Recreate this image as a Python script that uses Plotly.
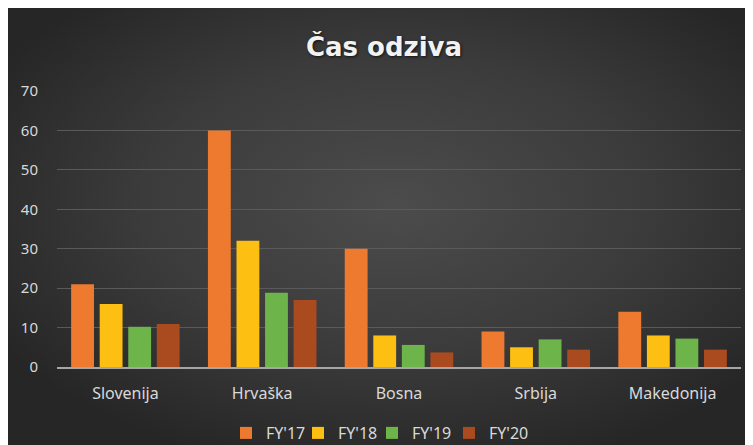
import plotly.graph_objects as go
import base64

categories = ["Slovenija", "Hrvaška", "Bosna", "Srbija", "Makedonija"]
series_names = ["FY'17", "FY'18", "FY'19", "FY'20"]
fy17 = [21, 60, 30, 9, 14]
fy18 = [16, 32, 8, 5, 8]
fy19 = [10.2, 18.8, 5.6, 7, 7.2]
fy20 = [10.9, 17, 3.7, 4.4, 4.4]
y_ticks = [0, 10, 20, 30, 40, 50, 60, 70]

series_values = [fy17, fy18, fy19, fy20]
colors = ["#EE7A30", "#FDC012", "#6DB44A", "#A94A1F"]
legend_ids = ["legend", "legend2", "legend3", "legend4"]
legend_text_x = [257, 329, 403, 480]

W, H = 745, 437
ml, mr, mt, mb = 49, 12, 83, 78
pw, ph = W - ml - mr, H - mt - mb

fig = go.Figure()
for name, vals, c, lg in zip(series_names, series_values, colors, legend_ids):
    fig.add_trace(go.Bar(x=categories, y=vals, name=name, legend=lg,
                         marker=dict(color=c, line=dict(width=0))))

svg = f"""<svg xmlns='http://www.w3.org/2000/svg' width='{W}' height='{H}' preserveAspectRatio='none'>
<defs><radialGradient id='g' cx='52%' cy='45%' r='62%'>
<stop offset='0%' stop-color='#4c4c4c'/><stop offset='55%' stop-color='#3b3b3b'/><stop offset='100%' stop-color='#262626'/>
</radialGradient></defs><rect width='{W}' height='{H}' fill='url(#g)'/></svg>"""
src = "data:image/svg+xml;base64," + base64.b64encode(svg.encode()).decode()

x0 = -ml / pw
x1 = (W - ml) / pw
ytop = (H - mb) / ph
ybot = -mb / ph
fig.add_layout_image(dict(source=src, xref="paper", yref="paper", x=x0, y=ytop,
                          sizex=x1 - x0, sizey=ytop - ybot, xanchor="left", yanchor="top",
                          sizing="stretch", layer="below"))

leg_y = (H - mb - 425) / ph
leg_common = dict(orientation="h", xanchor="left", y=leg_y, yanchor="middle",
                  font=dict(size=16, color="#d9d9d9"), bgcolor="rgba(0,0,0,0)",
                  itemwidth=30, traceorder="normal")
legends = {lg: dict(x=(tx - 39 - ml) / pw, **leg_common)
           for lg, tx in zip(legend_ids, legend_text_x)}

fig.update_layout(
    width=W, height=H,
    margin=dict(l=ml, r=mr, t=mt, b=mb, pad=0, autoexpand=False),
    paper_bgcolor="#363636",
    plot_bgcolor="rgba(0,0,0,0)",
    barmode="group", bargap=0.165, bargroupgap=0.2,
    title=dict(text="<b>Čas odziva</b>", x=(376 - ml) / pw, xref="paper", xanchor="center",
               y=1 - 39 / H, yanchor="middle",
               font=dict(family="DejaVu Sans", size=26, color="#f2f2f2",
                         shadow="1px 1px 3px rgba(0,0,0,0.7)")),
    font=dict(family="Noto Sans", color="#d9d9d9"),
    xaxis=dict(showgrid=False, showline=True, linecolor="#a6a6a6", linewidth=2,
               ticks="", tickfont=dict(size=16, color="#d9d9d9"), ticklabelstandoff=11),
    yaxis=dict(range=[0, 70], tickvals=y_ticks, showgrid=True, gridcolor="#5a5a5a",
               gridwidth=1, zeroline=False, showline=False, ticks="",
               tickfont=dict(size=15, color="#d9d9d9"), ticklabelstandoff=18),
    showlegend=True,
    **legends,
)

fig.write_html("out.html")
